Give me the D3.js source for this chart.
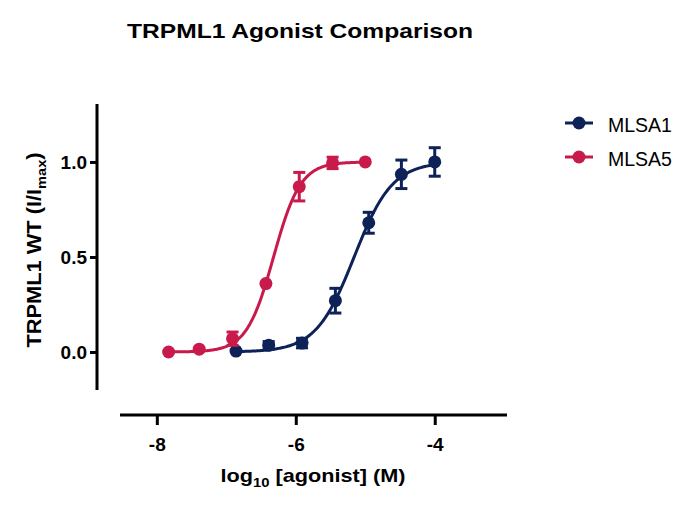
<!DOCTYPE html>
<html>
  <head>
    <meta charset="utf-8">
    <script src="https://d3js.org/d3.v7.min.js"></script>
    <style>
      body { margin: 0; background: #fff; }
      svg text { font-family: "Liberation Sans", Arial, sans-serif; }
    </style>
  </head>
  <body>
    <script type="text/javascript">
      "use strict";
      // MLSA1: 3-fold dilutions from 100 uM
      var mlsa1X = [-6.86, -6.39, -5.91, -5.43, -4.95, -4.48, -4.0];
      var mlsa1Y = [0.005, 0.035, 0.047, 0.27, 0.68, 0.935, 1.0];
      var mlsa1Err = [0.0, 0.02, 0.025, 0.065, 0.055, 0.075, 0.075];
      // MLSA5: 3-fold dilutions from 10 uM
      var mlsa5X = [-7.83, -7.39, -6.91, -6.43, -5.95, -5.47, -5.0];
      var mlsa5Y = [0.0, 0.015, 0.07, 0.36, 0.87, 0.995, 1.0];
      var mlsa5Err = [0.0, 0.0, 0.035, 0.0, 0.075, 0.03, 0.0];
      // fitted curve params: [bottom, top, logEC50, hill]
      var mlsa1Fit = [0, 1, -5.16, 1.58];
      var mlsa5Fit = [0, 1, -6.32, 2.24];
      var seriesNames = ["MLSA1", "MLSA5"];
      var seriesColors = ["#0d2257", "#c81a4b"];
      var xTicks = [-8, -6, -4];
      var yTicks = [0.0, 0.5, 1.0];

      var width = 699, height = 509;
      var svg = d3.select("body").append("svg")
          .attr("width", width)
          .attr("height", height);

      var x = d3.scaleLinear().domain([-8.53, -2.96]).range([120, 507]);
      var y = d3.scaleLinear().domain([-0.2, 1.305]).range([390, 104]);

      // title
      svg.append("text")
          .attr("x", 300).attr("y", 38)
          .attr("text-anchor", "middle")
          .attr("textLength", 346).attr("lengthAdjust", "spacingAndGlyphs")
          .style("font-size", "20.5px").style("font-weight", "bold")
          .text("TRPML1 Agonist Comparison");

      // y axis (offset from x axis, prism style)
      var yAxis = svg.append("g")
          .attr("transform", "translate(97,0)")
          .call(d3.axisLeft(y).tickValues(yTicks).tickSize(7).tickPadding(3)
                .tickFormat(d3.format(".1f")));
      yAxis.select(".domain").attr("d", "M0,104V390");
      yAxis.selectAll("line,path").attr("stroke", "#000").attr("stroke-width", 3);
      yAxis.selectAll("text").style("font-size", "19px").style("font-weight", "bold")
          .attr("fill", "#000");

      var xAxis = svg.append("g")
          .attr("transform", "translate(0,415)")
          .call(d3.axisBottom(x).tickValues(xTicks).tickSize(10).tickPadding(13)
                .tickFormat(function (d) { return String(d); }));
      xAxis.select(".domain").attr("d", "M120,0H507");
      xAxis.selectAll("line,path").attr("stroke", "#000").attr("stroke-width", 3);
      xAxis.selectAll("text").style("font-size", "19px").style("font-weight", "bold")
          .attr("fill", "#000");

      // axis titles
      var xt = svg.append("text")
          .attr("x", 313).attr("y", 482)
          .attr("text-anchor", "middle")
          .attr("textLength", 185).attr("lengthAdjust", "spacingAndGlyphs")
          .style("font-size", "19px").style("font-weight", "bold");
      xt.append("tspan").text("log");
      xt.append("tspan").attr("dy", 5).style("font-size", "13px").text("10");
      xt.append("tspan").attr("dy", -5).text(" [agonist] (M)");

      var yt = svg.append("text")
          .attr("transform", "translate(41,250) rotate(-90)")
          .attr("text-anchor", "middle")
          .attr("textLength", 195).attr("lengthAdjust", "spacingAndGlyphs")
          .style("font-size", "19.5px").style("font-weight", "bold");
      yt.append("tspan").text("TRPML1 WT (I/I");
      yt.append("tspan").attr("dy", 5).style("font-size", "13px").text("max");
      yt.append("tspan").attr("dy", -5).text(")");

      function hill(p, v) {
        return p[0] + (p[1] - p[0]) / (1 + Math.pow(10, (p[2] - v) * p[3]));
      }

      var line = d3.line()
          .x(function (d) { return x(d[0]); })
          .y(function (d) { return y(d[1]); });

      var series = [
        { xs: mlsa1X, ys: mlsa1Y, err: mlsa1Err, fit: mlsa1Fit },
        { xs: mlsa5X, ys: mlsa5Y, err: mlsa5Err, fit: mlsa5Fit }
      ];

      series.forEach(function (s, i) {
        var col = seriesColors[i];
        var lo = d3.min(s.xs), hi = d3.max(s.xs);
        var pts = d3.range(0, 201).map(function (k) {
          var v = lo + (hi - lo) * k / 200;
          return [v, hill(s.fit, v)];
        });
        var g = svg.append("g");
        g.append("path").datum(pts)
            .attr("d", line)
            .attr("fill", "none")
            .attr("stroke", col)
            .attr("stroke-width", 3);

        var idx = d3.range(s.xs.length);
        var eb = g.selectAll(".eb").data(idx.filter(function (j) { return s.err[j] > 0; }))
            .enter().append("g").attr("stroke", col).attr("stroke-width", 3);
        eb.append("line")
            .attr("x1", function (j) { return x(s.xs[j]); })
            .attr("x2", function (j) { return x(s.xs[j]); })
            .attr("y1", function (j) { return y(s.ys[j] + s.err[j]); })
            .attr("y2", function (j) { return y(s.ys[j] - s.err[j]); });
        [1, -1].forEach(function (sign) {
          eb.append("line")
              .attr("x1", function (j) { return x(s.xs[j]) - 6; })
              .attr("x2", function (j) { return x(s.xs[j]) + 6; })
              .attr("y1", function (j) { return y(s.ys[j] + sign * s.err[j]); })
              .attr("y2", function (j) { return y(s.ys[j] + sign * s.err[j]); });
        });

        g.selectAll("circle").data(idx).enter().append("circle")
            .attr("cx", function (j) { return x(s.xs[j]); })
            .attr("cy", function (j) { return y(s.ys[j]); })
            .attr("r", 6.5)
            .attr("fill", col);
      });

      // legend
      seriesNames.forEach(function (name, i) {
        var ly = 123 + i * 34;
        var lg = svg.append("g");
        lg.append("line").attr("x1", 565).attr("x2", 593)
            .attr("y1", ly).attr("y2", ly)
            .attr("stroke", seriesColors[i]).attr("stroke-width", 3);
        lg.append("circle").attr("cx", 579).attr("cy", ly).attr("r", 6.5)
            .attr("fill", seriesColors[i]);
        lg.append("text").attr("x", 608).attr("y", ly + 9)
            .style("font-size", "19.5px")
            .text(name);
      });
    </script>
  </body>
</html>
